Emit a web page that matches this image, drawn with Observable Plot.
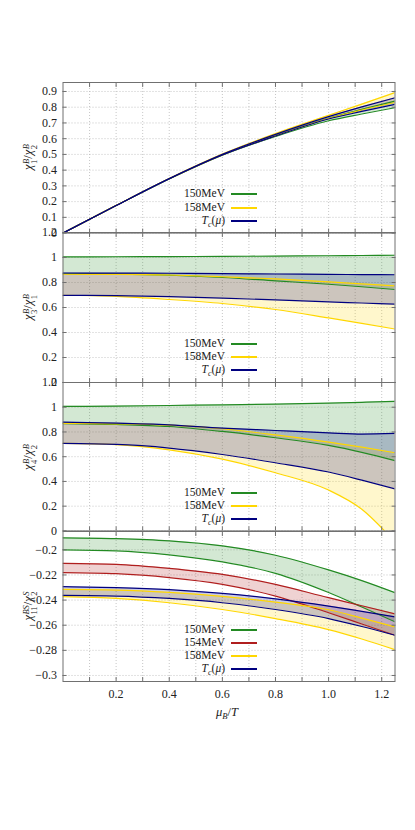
<!DOCTYPE html>
<html><head><meta charset="utf-8">
<script src="https://cdn.jsdelivr.net/npm/d3@7"></script>
<script src="https://cdn.jsdelivr.net/npm/@observablehq/plot@0.6"></script>
<style>
html,body{margin:0;padding:0;background:#fff;}
#root{position:relative;width:415px;height:830px;overflow:hidden;font-family:"Liberation Serif","Times New Roman",Tinos,"DejaVu Serif",serif;color:#222;}
.panel{position:absolute;left:0;}
.ylab{position:absolute;left:30px;font-size:12.5px;white-space:nowrap;transform:translate(-50%,-50%) rotate(-90deg);line-height:1;}
.ss{display:inline-block;font-size:8.5px;line-height:8px;vertical-align:-5px;margin-left:0.5px;text-align:left;}
.ss > *{display:block;}
.legtxt{position:absolute;font-size:11.5px;white-space:nowrap;line-height:12px;text-align:right;}
.legline{position:absolute;width:26px;height:2px;}
.xlab{position:absolute;font-size:12.5px;white-space:nowrap;transform:translate(-50%,-50%);}
.xlab sub{font-size:8.5px;}
.tc sub{font-size:8px;}
</style></head><body><div id="root"></div><script>
// shared x values (mu_B/T)
const mu = [0, 0.2, 0.4, 0.6, 0.8, 1.0, 1.125, 1.25];

// panel 1: chi1B/chi2B
const p1_150_lo = [0, 0.175, 0.344, 0.495, 0.614, 0.714, 0.757, 0.797];
const p1_150_hi = [0, 0.175, 0.345, 0.498, 0.622, 0.730, 0.786, 0.839];
const p1_158_lo = [0, 0.175, 0.345, 0.497, 0.619, 0.728, 0.782, 0.830];
const p1_158_hi = [0, 0.176, 0.347, 0.502, 0.632, 0.748, 0.820, 0.893];
const p1_tc_lo  = [0, 0.175, 0.345, 0.496, 0.617, 0.725, 0.773, 0.818];
const p1_tc_hi  = [0, 0.175, 0.346, 0.500, 0.627, 0.740, 0.802, 0.860];

// panel 2: chi3B/chi1B
const p2_150_lo = [0.870, 0.867, 0.858, 0.840, 0.813, 0.786, 0.766, 0.744];
const p2_150_hi = [1.005, 1.006, 1.007, 1.009, 1.011, 1.014, 1.016, 1.018];
const p2_158_lo = [0.698, 0.689, 0.664, 0.632, 0.584, 0.517, 0.473, 0.428];
const p2_158_hi = [0.866, 0.865, 0.860, 0.846, 0.829, 0.805, 0.789, 0.773];
const p2_tc_lo  = [0.697, 0.695, 0.687, 0.675, 0.661, 0.645, 0.636, 0.627];
const p2_tc_hi  = [0.876, 0.875, 0.874, 0.871, 0.868, 0.865, 0.863, 0.862];

// panel 3: chi4B/chi2B
const p3_150_lo = [0.868, 0.861, 0.844, 0.804, 0.753, 0.691, 0.635, 0.568];
const p3_150_hi = [1.007, 1.009, 1.014, 1.019, 1.025, 1.033, 1.040, 1.048];
const p3_158_lo = [0.707, 0.698, 0.655, 0.580, 0.470, 0.330, 0.175, -0.090];
const p3_158_hi = [0.870, 0.866, 0.855, 0.826, 0.776, 0.718, 0.677, 0.632];
const p3_tc_lo  = [0.707, 0.699, 0.670, 0.618, 0.551, 0.476, 0.410, 0.339];
const p3_tc_hi  = [0.879, 0.872, 0.858, 0.831, 0.812, 0.793, 0.783, 0.788];

// panel 4: chi11BS/chi2S
const p4_150_lo = [-0.2000, -0.2008, -0.2040, -0.2096, -0.2187, -0.2340, -0.2455, -0.2573];
const p4_150_hi = [-0.1904, -0.1910, -0.1928, -0.1968, -0.2043, -0.2160, -0.2245, -0.2341];
const p4_154_lo = [-0.2181, -0.2190, -0.2221, -0.2275, -0.2368, -0.2501, -0.2590, -0.2680];
const p4_154_hi = [-0.2107, -0.2115, -0.2147, -0.2195, -0.2275, -0.2381, -0.2445, -0.2510];
const p4_158_lo = [-0.2373, -0.2387, -0.2421, -0.2475, -0.2547, -0.2635, -0.2710, -0.2795];
const p4_158_hi = [-0.2315, -0.2320, -0.2339, -0.2371, -0.2416, -0.2477, -0.2543, -0.2613];
const p4_tc_lo  = [-0.2363, -0.2368, -0.2387, -0.2421, -0.2475, -0.2547, -0.2610, -0.2680];
const p4_tc_hi  = [-0.2293, -0.2301, -0.2317, -0.2347, -0.2390, -0.2448, -0.2490, -0.2533];

// ticks
const xGrid = [0.1,0.2,0.3,0.4,0.5,0.6,0.7,0.8,0.9,1.0,1.1,1.2];
const xLabels = [0.2,0.4,0.6,0.8,1.0,1.2];
const p1Ticks = [0,0.1,0.2,0.3,0.4,0.5,0.6,0.7,0.8,0.9];
const p2Ticks = [0,0.2,0.4,0.6,0.8,1,1.2];
const p3Ticks = [0,0.2,0.4,0.6,0.8,1,1.2];
const p4Ticks = [-0.3,-0.28,-0.26,-0.24,-0.22,-0.2];

const legend150 = "150MeV", legend154 = "154MeV", legend158 = "158MeV";

const C = {g:"#238a23", r:"#b01e1e", y:"#ffd700", b:"#000080"};
const FONT = "'Liberation Serif','Times New Roman',Tinos,'DejaVu Serif',serif";

const root = document.getElementById("root");
const W = 415, ML = 62.5, MR = 20.5;

function rows(lo, hi){ return mu.map((x,i)=>({x, lo:lo[i], hi:hi[i]})); }
const fmt = d => String(d).replace("-", "\u2212");

function panel({top, height, domain, ticks, series, bottomAxis}){
  const fills = [], lines = [];
  for (const s of series){
    const r = rows(s.lo, s.hi);
    fills.push(Plot.areaY(r, {x:"x", y1:"lo", y2:"hi", fill:s.c, fillOpacity:0.2, curve:"monotone-x", clip:true}));
    lines.push(Plot.lineY(r, {x:"x", y:"lo", stroke:s.c, strokeWidth:1.2, curve:"monotone-x", clip:true}));
    lines.push(Plot.lineY(r, {x:"x", y:"hi", stroke:s.c, strokeWidth:1.2, curve:"monotone-x", clip:true}));
  }
  const tickStroke = "#707070";
  const marks = [
    Plot.gridX(xGrid, {stroke:"#b8b8b8", strokeOpacity:1, strokeWidth:0.8, strokeDasharray:"1,2"}),
    Plot.gridY(ticks, {stroke:"#b8b8b8", strokeOpacity:1, strokeWidth:0.8, strokeDasharray:"1,2"}),
    ...fills, ...lines,
    Plot.frame({stroke:"#707070", strokeWidth:1}),
    Plot.axisX(xGrid, {anchor:"bottom", tickSize:4, dy:-4, fill:"none", stroke:tickStroke, label:null}),
    Plot.axisX(xGrid, {anchor:"top", tickSize:4, dy:4, fill:"none", stroke:tickStroke, label:null}),
    Plot.axisY(ticks, {anchor:"left", tickSize:4, dx:4, fill:"none", stroke:tickStroke, label:null}),
    Plot.axisY(ticks, {anchor:"right", tickSize:4, dx:-4, fill:"none", stroke:tickStroke, label:null}),
    Plot.axisY(ticks, {anchor:"left", tickSize:0, tickPadding:6, tickFormat:fmt, fill:"#222", label:null})
  ];
  if (bottomAxis) marks.push(Plot.axisX(xLabels, {anchor:"bottom", tickSize:0, tickPadding:8, tickFormat:d3.format(".1f"), fill:"#222", label:null}));
  const p = Plot.plot({
    width: W, height, marginLeft: ML, marginRight: MR, marginTop: 0, marginBottom: 0,
    x: {domain:[0,1.25]}, y: {domain},
    style: {background:"none", overflow:"visible", fontFamily:FONT, fontSize:"12px", color:"#222"},
    marks
  });
  p.classList.add("panel");
  p.style.top = top + "px";
  root.appendChild(p);
}

function legend(items, ys){
  items.forEach((it,i)=>{
    const y = Math.round(ys[i]);
    const t = document.createElement("div");
    t.className = "legtxt";
    t.innerHTML = it.html;
    t.style.right = (W - 225) + "px";
    t.style.top = (y - 7) + "px";
    root.appendChild(t);
    const l = document.createElement("div");
    l.className = "legline";
    l.style.left = "231px";
    l.style.top = (y - 1) + "px";
    l.style.background = it.c;
    root.appendChild(l);
  });
}
function ylabel(html, y){
  const d = document.createElement("div");
  d.className = "ylab"; d.innerHTML = html; d.style.top = y + "px";
  root.appendChild(d);
}
const chi = (sub, sup) => `<i>χ</i><span class="ss"><i>${sup}</i><span>${sub}</span></span>`;
const tcHtml = `<span class="tc"><i>T</i><sub><i>c</i></sub>(<i>μ</i>)</span>`;

panel({top:81.7, height:150.6, domain:[0,0.957], ticks:p1Ticks, series:[
  {lo:p1_150_lo, hi:p1_150_hi, c:C.g},{lo:p1_158_lo, hi:p1_158_hi, c:C.y},{lo:p1_tc_lo, hi:p1_tc_hi, c:C.b}]});
panel({top:232.3, height:150, domain:[0,1.2], ticks:p2Ticks, series:[
  {lo:p2_150_lo, hi:p2_150_hi, c:C.g},{lo:p2_158_lo, hi:p2_158_hi, c:C.y},{lo:p2_tc_lo, hi:p2_tc_hi, c:C.b}]});
panel({top:382.3, height:148.4, domain:[0,1.2], ticks:p3Ticks, series:[
  {lo:p3_150_lo, hi:p3_150_hi, c:C.g},{lo:p3_158_lo, hi:p3_158_hi, c:C.y},{lo:p3_tc_lo, hi:p3_tc_hi, c:C.b}]});
panel({top:530.7, height:150, domain:[-0.3048,-0.1854], ticks:p4Ticks, bottomAxis:true, series:[
  {lo:p4_150_lo, hi:p4_150_hi, c:C.g},{lo:p4_154_lo, hi:p4_154_hi, c:C.r},{lo:p4_158_lo, hi:p4_158_hi, c:C.y},{lo:p4_tc_lo, hi:p4_tc_hi, c:C.b}]});

const L3 = [{html:legend150,c:C.g},{html:legend158,c:C.y},{html:tcHtml,c:C.b}];
legend(L3, [194, 207.5, 220.8]);
legend(L3, [344, 357, 370]);
legend(L3, [493.3, 506.3, 519.3]);
legend([{html:legend150,c:C.g},{html:legend154,c:C.r},{html:legend158,c:C.y},{html:tcHtml,c:C.b}], [630, 643.3, 656.3, 669.3]);

ylabel(chi("1","B") + "/" + chi("2","B"), 157);
ylabel(chi("3","B") + "/" + chi("1","B"), 307.3);
ylabel(chi("4","B") + "/" + chi("2","B"), 456.5);
ylabel(chi("11","BS") + "/" + chi("2","S"), 605.7);

const xl = document.createElement("div");
xl.className = "xlab"; xl.innerHTML = `<i>μ</i><sub><i>B</i></sub>/<i>T</i>`;
xl.style.left = "227px"; xl.style.top = "713px";
root.appendChild(xl);
</script></body></html>
